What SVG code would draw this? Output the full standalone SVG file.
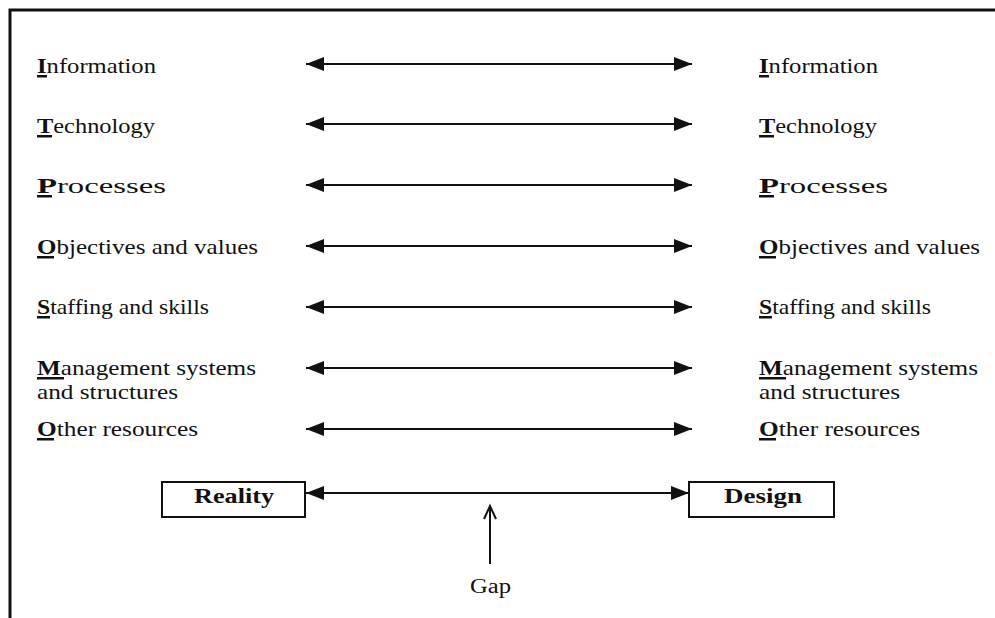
<svg xmlns="http://www.w3.org/2000/svg" width="995" height="618" viewBox="0 0 995 618">
<style>
.t{font-family:"Liberation Serif","Times New Roman",serif;font-size:21px;fill:#111}
.b{font-weight:bold}
.u{fill:#111}
.c{stroke:#111;stroke-width:2;fill:none}
.box{fill:#fff;stroke:#111;stroke-width:2}
.lb{font-family:"Liberation Serif","Times New Roman",serif;font-size:21px;font-weight:bold;fill:#111}
.g{font-family:"Liberation Serif","Times New Roman",serif;font-size:20px;fill:#111}
</style>
<defs>
<marker id="ah" viewBox="0 0 18 14" refX="18" refY="7" markerWidth="18" markerHeight="14" markerUnits="userSpaceOnUse" orient="auto-start-reverse">
<path d="M0,0 L18,7 L0,14 Z" fill="#111"/>
</marker>
</defs>
<rect width="995" height="618" fill="#fff"/>
<path d="M10,618 V10 H995" fill="none" stroke="#111" stroke-width="3"/>

<g id="left-labels">
<g id="l-info"><text class="t" x="37" y="73" textLength="119" lengthAdjust="spacingAndGlyphs"><tspan class="b">I</tspan>nformation</text><rect class="u" x="37" y="75" width="10" height="2.5"/></g>
<g id="l-tech"><text class="t" x="37" y="133" textLength="118" lengthAdjust="spacingAndGlyphs"><tspan class="b">T</tspan>echnology</text><rect class="u" x="37" y="135" width="15" height="2.5"/></g>
<g id="l-proc"><text class="t" x="37" y="193" textLength="129" lengthAdjust="spacingAndGlyphs"><tspan class="b">P</tspan>rocesses</text><rect class="u" x="37" y="195" width="15" height="2.5"/></g>
<g id="l-obj"><text class="t" x="37" y="254" textLength="221" lengthAdjust="spacingAndGlyphs"><tspan class="b">O</tspan>bjectives and values</text><rect class="u" x="37" y="256" width="17" height="2.5"/></g>
<g id="l-staff"><text class="t" x="37" y="314" textLength="172" lengthAdjust="spacingAndGlyphs"><tspan class="b">S</tspan>taffing and skills</text><rect class="u" x="37" y="316" width="13" height="2.5"/></g>
<g id="l-mgmt"><text class="t" x="37" y="375" textLength="219" lengthAdjust="spacingAndGlyphs"><tspan class="b">M</tspan>anagement systems</text><text class="t" x="37" y="399" textLength="141" lengthAdjust="spacingAndGlyphs">and structures</text><rect class="u" x="37" y="377" width="27" height="2.5"/></g>
<g id="l-other"><text class="t" x="37" y="436" textLength="161" lengthAdjust="spacingAndGlyphs"><tspan class="b">O</tspan>ther resources</text><rect class="u" x="37" y="438" width="17" height="2.5"/></g>
</g>

<g id="right-labels">
<g id="r-info"><text class="t" x="759" y="73" textLength="119" lengthAdjust="spacingAndGlyphs"><tspan class="b">I</tspan>nformation</text><rect class="u" x="759" y="75" width="10" height="2.5"/></g>
<g id="r-tech"><text class="t" x="759" y="133" textLength="118" lengthAdjust="spacingAndGlyphs"><tspan class="b">T</tspan>echnology</text><rect class="u" x="759" y="135" width="15" height="2.5"/></g>
<g id="r-proc"><text class="t" x="759" y="193" textLength="129" lengthAdjust="spacingAndGlyphs"><tspan class="b">P</tspan>rocesses</text><rect class="u" x="759" y="195" width="15" height="2.5"/></g>
<g id="r-obj"><text class="t" x="759" y="254" textLength="221" lengthAdjust="spacingAndGlyphs"><tspan class="b">O</tspan>bjectives and values</text><rect class="u" x="759" y="256" width="17" height="2.5"/></g>
<g id="r-staff"><text class="t" x="759" y="314" textLength="172" lengthAdjust="spacingAndGlyphs"><tspan class="b">S</tspan>taffing and skills</text><rect class="u" x="759" y="316" width="13" height="2.5"/></g>
<g id="r-mgmt"><text class="t" x="759" y="375" textLength="219" lengthAdjust="spacingAndGlyphs"><tspan class="b">M</tspan>anagement systems</text><text class="t" x="759" y="399" textLength="141" lengthAdjust="spacingAndGlyphs">and structures</text><rect class="u" x="759" y="377" width="27" height="2.5"/></g>
<g id="r-other"><text class="t" x="759" y="436" textLength="161" lengthAdjust="spacingAndGlyphs"><tspan class="b">O</tspan>ther resources</text><rect class="u" x="759" y="438" width="17" height="2.5"/></g>
</g>

<g id="reality"><rect class="box" x="162" y="482" width="143" height="35"/><text class="lb" x="194" y="503" textLength="80" lengthAdjust="spacingAndGlyphs">Reality</text></g>
<g id="design"><rect class="box" x="689" y="482" width="145" height="35"/><text class="lb" x="724" y="503" textLength="78" lengthAdjust="spacingAndGlyphs">Design</text></g>
<g id="gap"><text class="g" x="470" y="593" textLength="41" lengthAdjust="spacingAndGlyphs">Gap</text></g>

<g id="connectors">
<line class="c" x1="306" y1="64" x2="692" y2="64" marker-start="url(#ah)" marker-end="url(#ah)"/>
<line class="c" x1="306" y1="124" x2="692" y2="124" marker-start="url(#ah)" marker-end="url(#ah)"/>
<line class="c" x1="306" y1="185" x2="692" y2="185" marker-start="url(#ah)" marker-end="url(#ah)"/>
<line class="c" x1="306" y1="246" x2="692" y2="246" marker-start="url(#ah)" marker-end="url(#ah)"/>
<line class="c" x1="306" y1="307" x2="692" y2="307" marker-start="url(#ah)" marker-end="url(#ah)"/>
<line class="c" x1="306" y1="368" x2="692" y2="368" marker-start="url(#ah)" marker-end="url(#ah)"/>
<line class="c" x1="306" y1="429" x2="692" y2="429" marker-start="url(#ah)" marker-end="url(#ah)"/>
<line class="c" x1="306" y1="493" x2="689" y2="493" marker-start="url(#ah)" marker-end="url(#ah)"/>
<path class="c" d="M490,564 V507 M484,519 L490,506 L496,519" stroke-width="1.5"/>
</g>
</svg>
